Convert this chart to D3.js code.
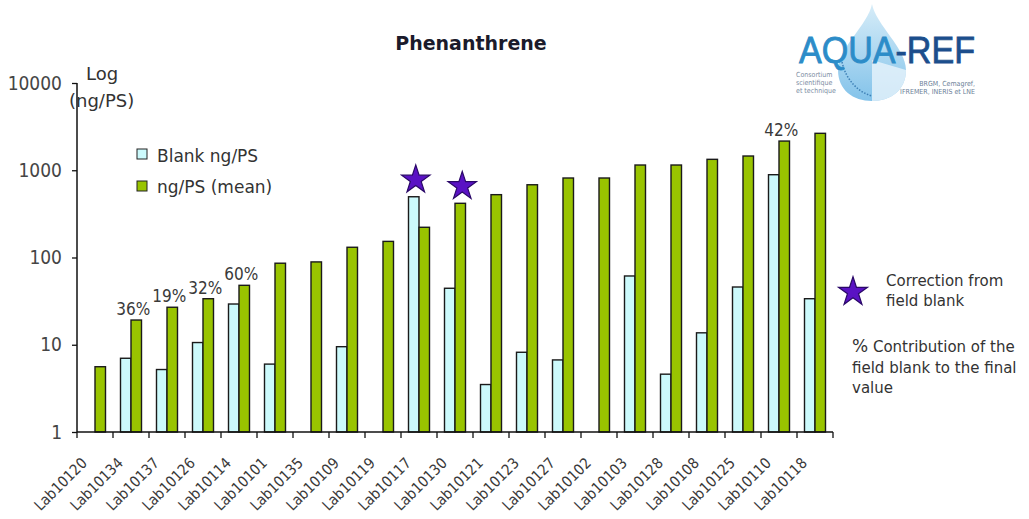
<!DOCTYPE html>
<html>
<head>
<meta charset="utf-8">
<script src="https://cdn.jsdelivr.net/npm/d3@7"></script>
<style>
  html, body { margin: 0; padding: 0; background: #ffffff; }
  svg { display: block; }
  text { font-family: "DejaVu Sans", sans-serif; }
</style>
</head>
<body>
<svg id="chart" width="1029" height="519"></svg>
<script>
// ---- Data ----
const categories = ['Lab10120','Lab10134','Lab10137','Lab10126','Lab10114','Lab10101','Lab10135','Lab10109','Lab10119','Lab10117','Lab10130','Lab10121','Lab10123','Lab10127','Lab10102','Lab10103','Lab10128','Lab10108','Lab10125','Lab10110','Lab10118'];
const blankValues = [null, 7.0, 5.2, 10.6, 29.3, 6.0, null, 9.5, null, 497, 44.4, 3.5, 8.2, 6.7, null, 61.4, 4.6, 13.7, 45.9, 889, 33.7];
const meanValues  = [5.6, 19.2, 26.9, 33.7, 48, 86, 89, 131, 153, 222, 418, 525, 682, 815, 815, 1148, 1148, 1334, 1456, 2160, 2650];
const seriesNames = ['Blank ng/PS', 'ng/PS (mean)'];
const yTicks = [1, 10, 100, 1000, 10000];
const pctCategories = ['Lab10134','Lab10137','Lab10126','Lab10114','Lab10110'];
const pctLabels = ['36%','19%','32%','60%','42%'];
const starCategories = ['Lab10117','Lab10130'];

(function () {
// ---- Layout ----
const svg = d3.select('#chart');
const pLeft = 77, pRight = 833, pTop = 83, pBottom = 432;
const colors = { blank: '#ccfafc', mean: '#99c400' };
const condensed = '"DejaVu Sans Condensed", "DejaVu Sans", sans-serif';

const x = d3.scaleBand().domain(categories).range([pLeft, pRight]).padding(0);
const sub = d3.scaleBand().domain(['blank', 'mean'])
  .range([x.bandwidth() / 2 - 10.5, x.bandwidth() / 2 + 10.5]).padding(0);
const y = d3.scaleLog().domain([1, 10000]).range([pBottom, pTop]);

// ---- Logo (AQUAREF) ----
const defs = svg.append('defs');
const grad = defs.append('linearGradient').attr('id', 'dropGrad')
  .attr('x1', '0').attr('y1', '0').attr('x2', '0').attr('y2', '1');
grad.append('stop').attr('offset', '0%').attr('stop-color', '#cfe9f7');
grad.append('stop').attr('offset', '100%').attr('stop-color', '#6db8e6');
const logo = svg.append('g');
logo.append('path')
  .attr('d', 'M872,4 C868,25 838,48 838,70 C838,90 853,101 872,101 C891,101 906,90 906,70 C906,48 876,25 872,4 Z')
  .attr('fill', 'url(#dropGrad)').attr('opacity', 0.85);
logo.append('path')
  .attr('d', 'M872,60 L906,70 C906,90 891,101 872,101 Z')
  .attr('fill', '#e8f4fb').attr('opacity', 0.8);
logo.append('path')
  .attr('d', 'M842,62 C846,80 858,92 872,96')
  .attr('fill', 'none').attr('stroke', '#3d7fb5').attr('stroke-width', 1.5).attr('stroke-dasharray', '1.5,1.5');
const lt = logo.append('text').attr('x', 799).attr('y', 63)
  .style('font-family', '"Liberation Sans", Arial, sans-serif')
  .style('font-size', '36px')
  .attr('stroke-width', 0.8)
  .attr('textLength', 176).attr('lengthAdjust', 'spacingAndGlyphs');
lt.append('tspan').attr('fill', '#2c8cc8').attr('stroke', '#2c8cc8').text('AQUA');
lt.append('tspan').attr('fill', '#1c4e8c').attr('stroke', '#1c4e8c').text('-REF');
[['Consortium', 77], ['scientifique', 85], ['et technique', 93]].forEach(([t, yy]) => {
  logo.append('text').attr('x', 796).attr('y', yy).attr('fill', '#7d8da3')
    .style('font-size', '7px').style('font-family', condensed).text(t);
});
[['BRGM, Cemagref,', 86], ['IFREMER, INERIS et LNE', 94]].forEach(([t, yy]) => {
  logo.append('text').attr('x', 975).attr('y', yy).attr('fill', '#6d7f98')
    .attr('text-anchor', 'end').style('font-size', '7px').style('font-family', condensed).text(t);
});

// ---- Title ----
svg.append('text').attr('x', 471).attr('y', 50).attr('text-anchor', 'middle')
  .attr('fill', '#1b1b2b').style('font-size', '19px').style('font-weight', 'bold')
  .text('Phenanthrene');

// ---- Bars ----
const rows = categories.map((c, i) => ({ cat: c, blank: blankValues[i], mean: meanValues[i] }));
const groups = svg.append('g').selectAll('g').data(rows).join('g')
  .attr('transform', d => `translate(${x(d.cat)},0)`);
groups.selectAll('rect')
  .data(d => ['blank', 'mean'].filter(k => d[k] != null).map(k => ({ key: k, value: d[k] })))
  .join('rect')
  .attr('x', d => sub(d.key))
  .attr('y', d => y(d.value))
  .attr('width', sub.bandwidth())
  .attr('height', d => pBottom - y(d.value))
  .attr('fill', d => colors[d.key])
  .attr('stroke', '#1a1a1a').attr('stroke-width', 1.4);

// ---- Axes ----
const yAxis = d3.axisLeft(y).tickValues(yTicks).tickFormat(d3.format('d')).tickSize(5).tickPadding(10);
const gy = svg.append('g').attr('transform', `translate(${pLeft},0)`).call(yAxis);
gy.select('.domain').attr('stroke', '#111').attr('stroke-width', 1.5).attr('d', `M0,${pBottom}V${pTop}`);
gy.selectAll('.tick line').attr('stroke', '#111').attr('stroke-width', 1.3);
gy.selectAll('.tick text').attr('fill', '#454545').style('font-size', '19px')
  .style('font-family', condensed);

const xAxis = d3.axisBottom(x).tickSize(0).tickFormat(d => d);
const gx = svg.append('g').attr('transform', `translate(0,${pBottom})`).call(xAxis);
gx.select('.domain').attr('stroke', '#111').attr('stroke-width', 1.5).attr('d', `M${pLeft},0H${pRight}`);
gx.selectAll('.tick text')
  .attr('text-anchor', 'end')
  .attr('transform', 'translate(-7,32) rotate(-45)')
  .attr('dy', 0).attr('y', 0)
  .attr('fill', '#3a3a3a').style('font-size', '15px').style('font-family', condensed);
const boundaries = categories.map(c => x(c)).concat([pRight]);
svg.append('g').selectAll('line').data(boundaries).join('line')
  .attr('x1', d => d).attr('x2', d => d)
  .attr('y1', pBottom).attr('y2', pBottom + 6)
  .attr('stroke', '#111').attr('stroke-width', 1.3);

// ---- Axis title ----
svg.append('text').attr('x', 86).attr('y', 80).attr('fill', '#333').style('font-size', '18px').text('Log');
svg.append('text').attr('x', 69).attr('y', 107).attr('fill', '#333').style('font-size', '18px').text('(ng/PS)');

// ---- Legend ----
const legend = svg.append('g');
['blank', 'mean'].forEach((k, i) => {
  legend.append('rect').attr('x', 137).attr('y', 149 + i * 32).attr('width', 10).attr('height', 10)
    .attr('fill', colors[k]).attr('stroke', '#222').attr('stroke-width', 1);
  legend.append('text').attr('x', 157).attr('y', 162 + i * 31).attr('fill', '#333')
    .style('font-size', '17px').text(seriesNames[i]);
});

// ---- Percent labels ----
svg.append('g').selectAll('text').data(pctCategories).join('text')
  .attr('x', c => x(c) + sub('mean') + sub.bandwidth() / 2 - 3)
  .attr('y', c => y(meanValues[categories.indexOf(c)]) - 5)
  .attr('text-anchor', 'middle').attr('fill', '#3a3a3a').style('font-size', '17px')
  .style('font-family', condensed)
  .text((c, i) => pctLabels[i]);

// ---- Stars ----
const star = d3.symbol().type(d3.symbolStar).size(250);
svg.append('g').selectAll('path').data(starCategories).join('path')
  .attr('d', star)
  .attr('transform', c => {
    const i = categories.indexOf(c);
    const k = blankValues[i] > meanValues[i] ? 'blank' : 'mean';
    const v = Math.max(blankValues[i] || 0, meanValues[i]);
    return `translate(${x(c) + sub(k) + sub.bandwidth() / 2 + 2},${y(v) - 17})`;
  })
  .attr('fill', '#5a12c4').attr('stroke', '#2a0868').attr('stroke-width', 1.2);

// ---- Right-side notes ----
svg.append('path').attr('d', d3.symbol().type(d3.symbolStar).size(260))
  .attr('transform', 'translate(853,292)')
  .attr('fill', '#5a12c4').attr('stroke', '#2a0868').attr('stroke-width', 1.2);
const note = svg.append('g').attr('fill', '#333').style('font-size', '15px');
note.append('text').attr('x', 886).attr('y', 286).text('Correction from');
note.append('text').attr('x', 886).attr('y', 306).text('field blank');
const n2 = note.append('text').attr('x', 852).attr('y', 352);
n2.append('tspan').style('font-size', '17px').text('%');
n2.append('tspan').text(' Contribution of the');
note.append('text').attr('x', 852).attr('y', 373).text('field blank to the final');
note.append('text').attr('x', 852).attr('y', 393).text('value');
})();
</script>
</body>
</html>
